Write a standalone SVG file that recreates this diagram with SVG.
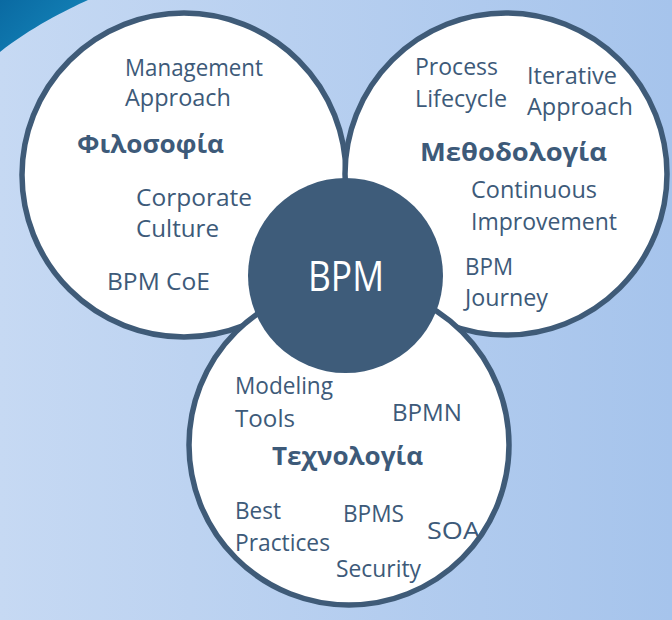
<svg xmlns="http://www.w3.org/2000/svg" width="672" height="620" viewBox="0 0 672 620">
<defs>
<linearGradient id="bg" x1="0" y1="0" x2="1" y2="0">
<stop offset="0" stop-color="#c6d9f3"/>
<stop offset="1" stop-color="#a6c4ec"/>
</linearGradient>
<linearGradient id="sw" x1="0" y1="0" x2="1" y2="0.6">
<stop offset="0" stop-color="#0a6aa2"/>
<stop offset="1" stop-color="#1484b9"/>
</linearGradient>
<style>
.ring{fill:#ffffff;stroke:#3f5b78;stroke-width:5.5}
.t{font-family:"Open Sans","Noto Sans","DejaVu Sans",sans-serif;font-size:23px;fill:#3d5a79}
.h{font-family:"Open Sans","Noto Sans","DejaVu Sans",sans-serif;font-size:25px;font-weight:bold;fill:#3d5a79}
.c{font-family:"Open Sans","Noto Sans","DejaVu Sans",sans-serif;font-size:42px;fill:#ffffff}
</style>
</defs>
<rect x="0" y="0" width="672" height="620" fill="url(#bg)"/>
<path d="M0,0 L88,0 C66,10 30,28 0,52 Z" fill="url(#sw)"/>
<g id="connectors"/>
<g id="node-filosofia">
<circle class="ring" cx="184" cy="175" r="162"/>
<text class="t" x="125" y="76" textLength="138" lengthAdjust="spacingAndGlyphs">Management</text>
<text class="t" x="125" y="106" textLength="106" lengthAdjust="spacingAndGlyphs">Approach</text>
<text class="h" x="77" y="153" textLength="147" lengthAdjust="spacingAndGlyphs">Φιλοσοφία</text>
<text class="t" x="136" y="206" textLength="116" lengthAdjust="spacingAndGlyphs">Corporate</text>
<text class="t" x="136" y="237" textLength="83" lengthAdjust="spacingAndGlyphs">Culture</text>
<text class="t" x="107" y="290" textLength="103" lengthAdjust="spacingAndGlyphs">BPM CoE</text>
</g>
<g id="node-methodologia">
<circle class="ring" cx="506" cy="174" r="161"/>
<text class="t" x="415" y="75" textLength="83" lengthAdjust="spacingAndGlyphs">Process</text>
<text class="t" x="415" y="107" textLength="92" lengthAdjust="spacingAndGlyphs">Lifecycle</text>
<text class="t" x="527" y="84" textLength="90" lengthAdjust="spacingAndGlyphs">Iterative</text>
<text class="t" x="527" y="115" textLength="106" lengthAdjust="spacingAndGlyphs">Approach</text>
<text class="h" x="420" y="161" textLength="187" lengthAdjust="spacingAndGlyphs">Μεθοδολογία</text>
<text class="t" x="471" y="198" textLength="126" lengthAdjust="spacingAndGlyphs">Continuous</text>
<text class="t" x="471" y="230" textLength="146" lengthAdjust="spacingAndGlyphs">Improvement</text>
<text class="t" x="465" y="275" textLength="48" lengthAdjust="spacingAndGlyphs">BPM</text>
<text class="t" x="465" y="306" textLength="83" lengthAdjust="spacingAndGlyphs">Journey</text>
</g>
<g id="node-technologia">
<circle class="ring" cx="349" cy="445" r="160"/>
<text class="t" x="235" y="394" textLength="98" lengthAdjust="spacingAndGlyphs">Modeling</text>
<text class="t" x="235" y="427" textLength="60" lengthAdjust="spacingAndGlyphs">Tools</text>
<text class="t" x="392" y="421" textLength="70" lengthAdjust="spacingAndGlyphs">BPMN</text>
<text class="h" x="272" y="465" textLength="151" lengthAdjust="spacingAndGlyphs">Τεχνολογία</text>
<text class="t" x="235" y="519" textLength="46" lengthAdjust="spacingAndGlyphs">Best</text>
<text class="t" x="235" y="551" textLength="95" lengthAdjust="spacingAndGlyphs">Practices</text>
<text class="t" x="343" y="522" textLength="61" lengthAdjust="spacingAndGlyphs">BPMS</text>
<text class="t" x="427" y="539" textLength="53" lengthAdjust="spacingAndGlyphs">SOA</text>
<text class="t" x="336" y="577" textLength="85" lengthAdjust="spacingAndGlyphs">Security</text>
</g>
<g id="node-bpm">
<circle cx="345.5" cy="275.5" r="97.5" fill="#3e5c7a"/>
<text class="c" x="308" y="291" textLength="76" lengthAdjust="spacingAndGlyphs">BPM</text>
</g>
</svg>
